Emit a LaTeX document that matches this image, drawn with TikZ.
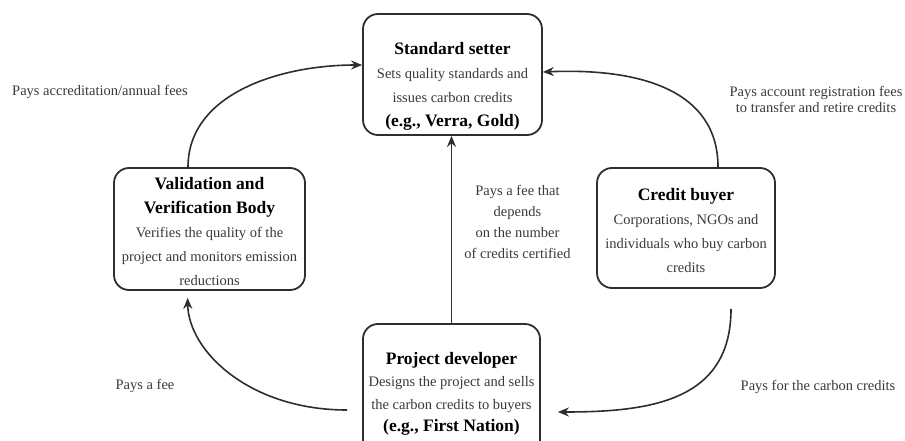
\documentclass[tikz,border=0pt]{standalone}
\usepackage{fontspec}
\setmainfont{Liberation Serif}
\usetikzlibrary{arrows.meta}
\definecolor{linec}{HTML}{2E2E2E}
\definecolor{bodyc}{HTML}{3A3A3A}
\newcommand{\boxtitle}[1]{{\color{black}\fontsize{17.5}{24}\selectfont\bfseries #1}}
\tikzset{
  box/.style={draw=linec, line width=1.8pt, rounded corners=15pt, inner sep=0pt},
  txt/.style={align=center, font=\fontsize{14.5}{24}\selectfont, text=bodyc, inner sep=0pt},
  conn/.style={draw=linec, line width=1.6pt, -{Stealth[length=11pt,width=9pt]}},
  lbl/.style={align=center, font=\fontsize{14.5}{16}\selectfont, text=bodyc, inner sep=0pt}
}
\begin{document}
\begin{tikzpicture}[x=1pt,y=-1pt]
\useasboundingbox (0,0) rectangle (905,441);
\clip (0,0) rectangle (905,441);
\fill[white] (0,0) rectangle (905,441);

% boxes
\node[box, minimum width=179pt, minimum height=121pt] (ss) at (452.5,74.5) {};
\node[box, minimum width=191pt, minimum height=122pt] (vv) at (209.5,229) {};
\node[box, minimum width=178pt, minimum height=120pt] (cb) at (686,228) {};
\node[box, minimum width=177pt, minimum height=136pt] (pd) at (451.5,392) {};

% box texts
\node[txt] (sst) at (452.5,86) {\boxtitle{Standard setter}\\Sets quality standards and\\issues carbon credits\\\boxtitle{(e.g., Verra, Gold)}};
\node[txt] (vvt) at (209.5,231) {\boxtitle{Validation and}\\\boxtitle{Verification Body}\\Verifies the quality of the\\project and monitors emission\\reductions};
\node[txt] (cbt) at (686,230.5) {\boxtitle{Credit buyer}\\Corporations, NGOs and\\individuals who buy carbon\\credits};
\node[txt, font=\fontsize{14.5}{22.5}\selectfont] (pdt) at (451.5,394) {\boxtitle{Project developer}\\Designs the project and sells\\the carbon credits to buyers\\\boxtitle{(e.g., First Nation)}};

% connectors
\draw[conn] (pd.north) -- (pd.north |- ss.south);
\draw[conn] ([xshift=-21.5pt]vv.north) .. controls +(0,-73) and +(-83,0) .. ([yshift=9.5pt]ss.west);
\draw[conn] ([xshift=32pt]cb.north) .. controls +(0,-78) and +(95,-4) .. ([yshift=2.5pt]ss.east);
\draw[conn, shorten <=20pt, shorten >=17pt] ([xshift=45pt]cb.south) .. controls +(0,112) and +(110,0) .. ([yshift=-20pt]pd.east);
\draw[conn, shorten <=15pt, shorten >=7pt] ([yshift=-18pt]pd.west) .. controls +(-113,0) and +(1,60) .. ([xshift=-22pt]vv.south);

% labels
\node[lbl] (l1) at (100,92) {Pays accreditation/annual fees};
\node[lbl] (l2) at (816,99.5) {Pays account registration fees\\to transfer and retire credits};
\node[lbl, font=\fontsize{14.5}{21}\selectfont] (l3) at (517.5,221.5) {Pays a fee that\\depends\\on the number\\of credits certified};
\node[lbl] (l4) at (145,386) {Pays a fee};
\node[lbl] (l5) at (818,387) {Pays for the carbon credits};
\end{tikzpicture}
\end{document}
